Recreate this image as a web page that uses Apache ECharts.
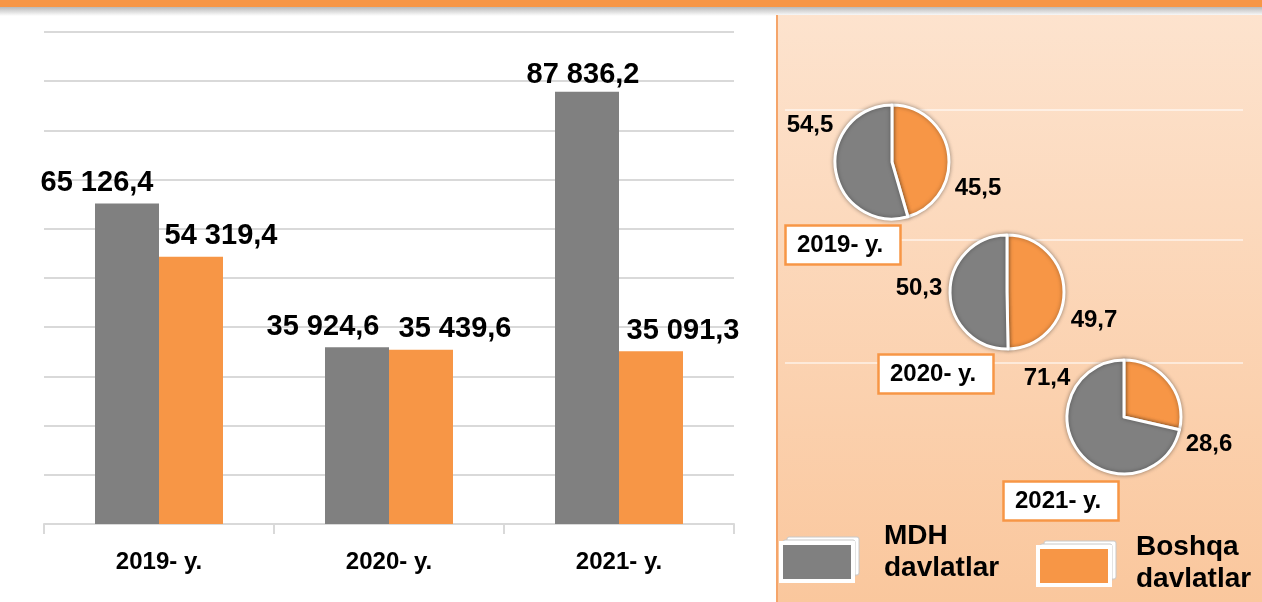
<!DOCTYPE html>
<html>
<head>
<meta charset="utf-8">
<script src="https://cdn.jsdelivr.net/npm/echarts@6/dist/echarts.min.js"></script>
<style>
  html, body { margin: 0; padding: 0; background: #fff; }
  #chart { width: 1262px; height: 602px; }
</style>
</head>
<body>
<div id="chart"></div>
<script>
// ma'lumotlar
const years = ['2019- y.', '2020- y.', '2021- y.'];
const seriesNames = ['MDH davlatlar', 'Boshqa davlatlar'];
const mdhValues = [65126.4, 35924.6, 87836.2];
const boshqaValues = [54319.4, 35439.6, 35091.3];
const mdhShare = [54.5, 50.3, 71.4];
const boshqaShare = [45.5, 49.7, 28.6];

const GRAY = '#808080';
const ORANGE = '#f79646';
const FONT = '"Liberation Sans", Arial, sans-serif';

// label shifts for the bar values (layout only)
const mdhShift = [[-30, 0], [-34, 0], [-4, 4]];
const boshqaShift = [[30, 0], [34, 0], [32, 0]];
// pie centres and label offsets
const pieCenters = [[892, 162], [1007, 292], [1124, 417]];
const pieLabelOffsets = [
  [[86, 26], [-82, -37]],
  [[87, 28], [-88, -4]],
  [[85, 27], [-77, -39]]
];
const yearBoxes = [[785, 225], [878, 354], [1003, 481]];

function fmtBig(v) {
  const parts = v.toFixed(1).split('.');
  return parts[0].replace(/\B(?=(\d{3})+(?!\d))/g, ' ') + ',' + parts[1];
}
function fmtShare(v) {
  return v.toFixed(1).replace('.', ',');
}

const chart = echarts.init(document.getElementById('chart'));

const barLabel = {
  show: true,
  position: 'top',
  distance: 6,
  color: '#000',
  fontFamily: FONT,
  fontWeight: 'bold',
  fontSize: 29,
  formatter: (p) => fmtBig(p.value)
};

const pieSeries = years.map((y, i) => ({
  type: 'pie',
  center: pieCenters[i],
  radius: 57,
  startAngle: 90,
  clockwise: true,
  avoidLabelOverlap: false,
  itemStyle: {
    borderColor: '#fff',
    borderWidth: 3,
    shadowBlur: 4,
    shadowColor: 'rgba(0,0,0,0.35)'
  },
  label: {
    show: true,
    position: 'outside',
    color: '#000',
    fontFamily: FONT,
    fontWeight: 'bold',
    fontSize: 24,
    formatter: (p) => fmtShare(p.value)
  },
  labelLine: { show: false },
  labelLayout: (params) => {
    const off = pieLabelOffsets[i][params.dataIndex];
    return {
      x: pieCenters[i][0] + off[0],
      y: pieCenters[i][1] + off[1],
      align: 'center',
      verticalAlign: 'middle'
    };
  },
  emphasis: { disabled: true },
  data: [
    { name: seriesNames[1], value: boshqaShare[i], itemStyle: { color: ORANGE } },
    { name: seriesNames[0], value: mdhShare[i], itemStyle: { color: GRAY } }
  ]
}));

const titles = years.map((y, i) => ({
  text: y,
  left: yearBoxes[i][0],
  top: yearBoxes[i][1],
  backgroundColor: '#fff',
  borderColor: ORANGE,
  borderWidth: 2.5,
  padding: [7, 17, 7, 12],
  textStyle: {
    color: '#000',
    fontFamily: FONT,
    fontWeight: 'bold',
    fontSize: 24,
    lineHeight: 26
  }
}));

function pages(x, y) {
  return [8, 4].map((d) => ({
    type: 'rect',
    z: 3,
    shape: { x: x + d, y: y - d * 0.75, width: 72, height: 38, r: 2 },
    style: { fill: '#fff', stroke: '#c8c8c8', lineWidth: 1 }
  }));
}

// legend text: two words on two lines, plus an empty spacer line to lift the block
function legendStyle(padLeft, spacer) {
  return {
    color: '#000',
    fontFamily: FONT,
    fontWeight: 'bold',
    fontSize: 28,
    lineHeight: 32,
    padding: [0, 0, 0, padLeft],
    rich: {
      a: { fontFamily: FONT, fontWeight: 'bold', fontSize: 28, lineHeight: 32, color: '#000' },
      s: { fontSize: 1, lineHeight: spacer, height: spacer }
    }
  };
}
const legendFmt = (n) => n.split(' ').map((w) => '{a|' + w + '}').join('\n') + '\n{s|}';

chart.setOption({
  backgroundColor: '#fff',
  animation: false,
  title: titles,
  graphic: [
    { type: 'rect', z: -10, shape: { x: 0, y: 0, width: 1262, height: 7 }, style: { fill: ORANGE } },
    {
      type: 'rect', z: -10, shape: { x: 0, y: 7, width: 1262, height: 9 },
      style: { fill: new echarts.graphic.LinearGradient(0, 0, 0, 1, [
        { offset: 0, color: '#b9b9b9' }, { offset: 1, color: '#ffffff' }
      ]) }
    },
    {
      type: 'rect', z: -10, shape: { x: 777, y: 15, width: 485, height: 587 },
      style: { fill: new echarts.graphic.LinearGradient(0, 0, 0, 1, [
        { offset: 0, color: '#fde3ce' }, { offset: 1, color: '#fac79d' }
      ]) }
    },
    { type: 'line', z: -9, shape: { x1: 777, y1: 15, x2: 777, y2: 602 }, style: { stroke: '#f5a56a', lineWidth: 2 } },
    ...[110, 240, 363].map((yy) => ({
      type: 'line', z: -9,
      shape: { x1: 785, y1: yy, x2: 1243, y2: yy },
      style: { stroke: 'rgba(255,255,255,0.7)', lineWidth: 1.5 }
    })),
    ...pages(779, 543),
    ...pages(1036, 547)
  ],
  legend: [
    {
      data: [seriesNames[0]],
      left: 779,
      top: 520,
      padding: 0,
      icon: 'rect',
      itemWidth: 72,
      itemHeight: 38,
      selectedMode: false,
      itemStyle: { borderColor: '#fff', borderWidth: 4 },
      formatter: legendFmt,
      textStyle: legendStyle(26, 20)
    },
    {
      data: [seriesNames[1]],
      left: 1036,
      top: 531,
      padding: 0,
      icon: 'rect',
      itemWidth: 72,
      itemHeight: 38,
      selectedMode: false,
      itemStyle: { borderColor: '#fff', borderWidth: 4 },
      formatter: legendFmt,
      textStyle: legendStyle(21, 6)
    }
  ],
  grid: { left: 44, right: 528, top: 32, bottom: 78 },
  xAxis: {
    type: 'category',
    data: years,
    axisLine: { lineStyle: { color: '#d9d9d9', width: 2 } },
    axisTick: { show: true, length: 10, lineStyle: { color: '#d9d9d9', width: 2 } },
    axisLabel: {
      margin: 26,
      color: '#000',
      fontFamily: FONT,
      fontWeight: 'bold',
      fontSize: 24
    }
  },
  yAxis: {
    type: 'value',
    min: 0,
    max: 100000,
    interval: 10000,
    axisLabel: { show: false },
    axisLine: { show: false },
    axisTick: { show: false },
    splitLine: { lineStyle: { color: '#d9d9d9', width: 2 } }
  },
  series: [
    {
      name: seriesNames[0],
      type: 'bar',
      barWidth: 64,
      barGap: '0%',
      itemStyle: { color: GRAY },
      label: barLabel,
      data: mdhValues.map((v, i) => ({ value: v, label: { offset: mdhShift[i] } }))
    },
    {
      name: seriesNames[1],
      type: 'bar',
      barWidth: 64,
      barGap: '0%',
      itemStyle: { color: ORANGE },
      label: barLabel,
      data: boshqaValues.map((v, i) => ({ value: v, label: { offset: boshqaShift[i] } }))
    },
    ...pieSeries
  ]
});
</script>
</body>
</html>
